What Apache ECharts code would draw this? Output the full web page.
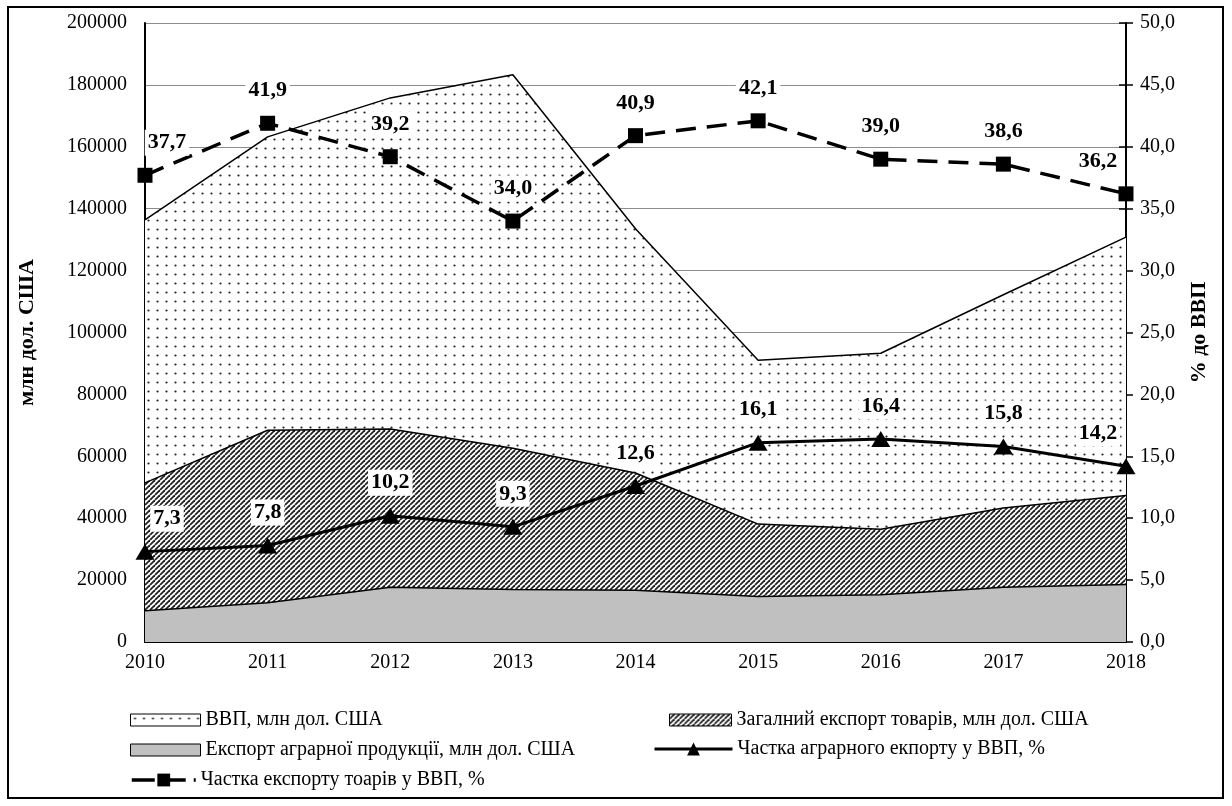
<!DOCTYPE html>
<html>
<head>
<meta charset="utf-8">
<script src="https://cdn.jsdelivr.net/npm/echarts@6/dist/echarts.min.js"></script>
<style>
html,body{margin:0;padding:0;background:#fff;}
#chart{width:1232px;height:806px;}
</style>
</head>
<body>
<div id="chart"></div>
<script>
const years = ['2010','2011','2012','2013','2014','2015','2016','2017','2018'];
const gdp = [136400, 163200, 175800, 183300, 133500, 91000, 93300, 112200, 130800];
const exportsTotal = [51400, 68400, 68800, 62600, 54600, 38100, 36400, 43300, 47300];
const agriExports = [10100, 12700, 17700, 17000, 16700, 14700, 15300, 17700, 18600];
const agriShare = [7.3, 7.8, 10.2, 9.3, 12.6, 16.1, 16.4, 15.8, 14.2];
const exportShare = [37.7, 41.9, 39.2, 34.0, 40.9, 42.1, 39.0, 38.6, 36.2];

const names = {
  gdp: 'ВВП, млн дол. США',
  exp: 'Загалний експорт товарів, млн дол. США',
  agri: 'Експорт аграрної продукції, млн дол. США',
  agriShare: 'Частка аграрного екпорту у ВВП, %',
  expShare: 'Частка експорту тоарів у ВВП, %'
};

const FONT = '"Liberation Serif", "Times New Roman", serif';

function dotPattern() {
  const c = document.createElement('canvas');
  c.width = 9; c.height = 9;
  const g = c.getContext('2d');
  g.fillStyle = '#fff'; g.fillRect(0, 0, 9, 9);
  g.fillStyle = '#222';
  g.beginPath(); g.arc(4.5, 4.5, 1.1, 0, Math.PI * 2); g.fill();
  return { image: c, repeat: 'repeat' };
}
function hatchPattern() {
  const c = document.createElement('canvas');
  const s = 5;
  c.width = s; c.height = s;
  const g = c.getContext('2d');
  g.fillStyle = '#fff'; g.fillRect(0, 0, s, s);
  g.strokeStyle = '#222'; g.lineWidth = 1.8;
  [-s, 0, s].forEach(k => { g.beginPath(); g.moveTo(k, s); g.lineTo(k + s, 0); g.stroke(); });
  return { image: c, repeat: 'repeat' };
}
const dots = dotPattern();
const hatch = hatchPattern();
const grey = '#c0c0c0';

const fmt = v => Number(v).toFixed(1).replace('.', ',');

function labelData(arr) {
  return arr.map((v, i) => {
    const o = { value: v };
    if (i === 0) o.label = { offset: [22, 0] };
    if (i === arr.length - 1) o.label = { offset: [-28, 0] };
    return o;
  });
}

const lineLabel = {
  show: true, position: 'top', distance: 12,
  formatter: p => fmt(p.value),
  fontFamily: FONT, fontSize: 22, fontWeight: 'bold', color: '#000',
  backgroundColor: '#fff', padding: [2, 3]
};

const chart = echarts.init(document.getElementById('chart'), null, { renderer: 'canvas' });
const legendText = { fontFamily: FONT, fontSize: 20, color: '#000' };

chart.setOption({
  animation: false,
  backgroundColor: '#fff',
  grid: { left: 145, right: 106, top: 23, bottom: 164 },
  graphic: [{
    type: 'rect', shape: { x: 8, y: 7, width: 1215, height: 791 },
    style: { fill: 'none', stroke: '#000', lineWidth: 2 }, z: 100, silent: true
  }],
  legend: [
    { left: 125, top: 705, itemWidth: 70, itemHeight: 12, itemGap: 10, selectedMode: false, textStyle: legendText,
      data: [{ name: names.gdp, icon: 'rect', itemStyle: { color: dots, borderColor: '#000', borderWidth: 1 } }] },
    { left: 664, top: 705, itemWidth: 62, itemHeight: 12, selectedMode: false, textStyle: legendText,
      data: [{ name: names.exp, icon: 'rect', itemStyle: { color: hatch, borderColor: '#000', borderWidth: 1 } }] },
    { left: 125, top: 735, itemWidth: 70, itemHeight: 12, selectedMode: false, textStyle: legendText,
      data: [{ name: names.agri, icon: 'rect', itemStyle: { color: grey, borderColor: '#000', borderWidth: 1 } }] },
    { left: 648, top: 734, itemWidth: 78, itemHeight: 16, selectedMode: false, textStyle: legendText,
      data: [{ name: names.agriShare, lineStyle: { width: 3, color: '#000' } }] },
    { left: 125, top: 765, itemWidth: 64, itemHeight: 16, selectedMode: false, textStyle: legendText,
      data: [{ name: names.expShare, lineStyle: { width: 3.5, color: '#000', type: [23, 8] } }] }
  ],
  xAxis: {
    type: 'category', data: years, boundaryGap: false,
    axisLine: { lineStyle: { color: '#000', width: 2 } },
    axisTick: { show: false },
    axisLabel: { fontFamily: FONT, fontSize: 20, color: '#000', margin: 11 },
    splitLine: { show: false }
  },
  yAxis: [
    {
      type: 'value', min: 0, max: 200000, interval: 20000,
      name: 'млн дол. США', nameLocation: 'middle', nameRotate: 90, nameGap: 107,
      nameTextStyle: { fontFamily: FONT, fontSize: 22, fontWeight: 'bold', color: '#000' },
      axisLine: { show: true, lineStyle: { color: '#000', width: 2 } },
      axisTick: { show: false },
      axisLabel: { fontFamily: FONT, fontSize: 20, color: '#000', margin: 18, formatter: v => String(v) },
      splitLine: { show: true, lineStyle: { color: '#8c8c8c', width: 1.2 } }
    },
    {
      type: 'value', min: 0, max: 50, interval: 5, position: 'right',
      name: '% до ВВП', nameLocation: 'middle', nameRotate: 90, nameGap: 62,
      nameTextStyle: { fontFamily: FONT, fontSize: 22, fontWeight: 'bold', color: '#000' },
      axisLine: { show: true, lineStyle: { color: '#000', width: 2 } },
      axisTick: { show: true, length: 7, lineStyle: { color: '#000', width: 1.5 } },
      axisLabel: { fontFamily: FONT, fontSize: 20, color: '#000', margin: 14, formatter: v => fmt(v) },
      splitLine: { show: false }
    },
    {
      type: 'value', min: 0, max: 50, interval: 5, position: 'right',
      axisLine: { show: false },
      axisTick: { show: true, inside: true, length: 7, lineStyle: { color: '#000', width: 1.5 } },
      axisLabel: { show: false },
      splitLine: { show: false }
    }
  ],
  series: [
    {
      name: names.gdp, type: 'line', data: gdp, yAxisIndex: 0, showSymbol: false, symbol: 'none',
      lineStyle: { color: '#000', width: 1.5 }, itemStyle: { color: dots },
      areaStyle: { color: dots, opacity: 1 }, z: 1
    },
    {
      name: names.exp, type: 'line', data: exportsTotal, yAxisIndex: 0, showSymbol: false, symbol: 'none',
      lineStyle: { color: '#000', width: 1.5 }, itemStyle: { color: hatch },
      areaStyle: { color: hatch, opacity: 1 }, z: 2
    },
    {
      name: names.agri, type: 'line', data: agriExports, yAxisIndex: 0, showSymbol: false, symbol: 'none',
      lineStyle: { color: '#000', width: 1.5 }, itemStyle: { color: grey },
      areaStyle: { color: grey, opacity: 1 }, z: 3
    },
    {
      name: names.agriShare, type: 'line', data: labelData(agriShare), yAxisIndex: 1,
      symbol: 'triangle', symbolSize: [19, 16],
      lineStyle: { color: '#000', width: 3 }, itemStyle: { color: '#000' },
      label: lineLabel, z: 5
    },
    {
      name: names.expShare, type: 'line', data: labelData(exportShare), yAxisIndex: 1,
      symbol: 'rect', symbolSize: 15,
      lineStyle: { color: '#000', width: 3.5, type: [20, 11] }, itemStyle: { color: '#000' },
      label: lineLabel, z: 5
    }
  ]
});
</script>
</body>
</html>
